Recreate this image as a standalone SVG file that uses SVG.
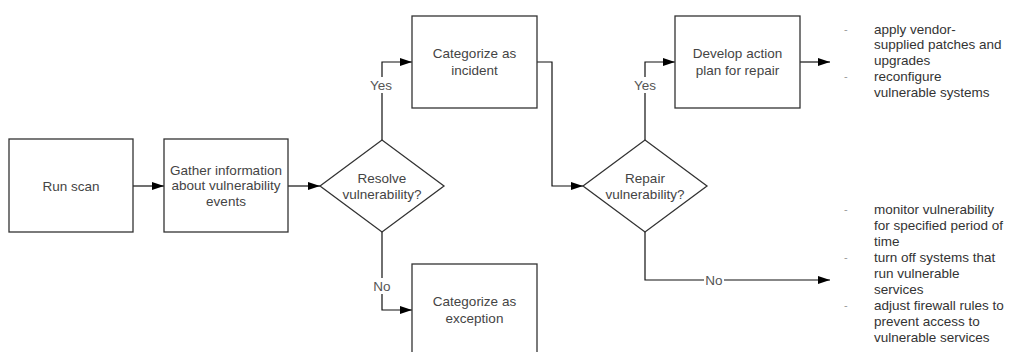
<svg xmlns="http://www.w3.org/2000/svg" width="1010" height="352" viewBox="0 0 1010 352">
<style>
.box{fill:#fff;stroke:#333;stroke-width:1.3}
.t{font-family:"Liberation Sans",Arial,sans-serif;font-size:13.5px;fill:#444;text-anchor:middle}
.lbl{font-family:"Liberation Sans",Arial,sans-serif;font-size:13.5px;fill:#555;text-anchor:middle}
.list{font-family:"Liberation Sans",Arial,sans-serif;font-size:13.5px;fill:#333}
.bul{font-family:"Liberation Sans",Arial,sans-serif;font-size:11px;fill:#999}
.c{fill:none;stroke:#111;stroke-width:1.2}
.bg{fill:#fff}
</style>
<defs>
<marker id="a" viewBox="0 0 12 8" refX="12" refY="4" markerWidth="12" markerHeight="8" markerUnits="userSpaceOnUse" orient="auto"><path d="M0,0 L12,4 L0,8 z" fill="#000"/></marker>
</defs>
<rect width="1010" height="352" fill="#fff"/>
<g id="connectors">
<path class="c" d="M133,186 H164" marker-end="url(#a)"/>
<path class="c" d="M288,186 H320" marker-end="url(#a)"/>
<path class="c" d="M382,140 V62 H412" marker-end="url(#a)"/>
<path class="c" d="M382,232 V310 H412" marker-end="url(#a)"/>
<path class="c" d="M537,62 H552 V186 H583" marker-end="url(#a)"/>
<path class="c" d="M645,140 V62 H675" marker-end="url(#a)"/>
<path class="c" d="M645,232 V280 H830" marker-end="url(#a)"/>
<path class="c" d="M800,62 H830" marker-end="url(#a)"/>
<rect class="bg" x="370" y="77" width="24" height="16"/>
<text class="lbl" x="381" y="90">Yes</text>
<rect class="bg" x="372" y="278" width="20" height="16"/>
<text class="lbl" x="382" y="291">No</text>
<rect class="bg" x="633" y="77" width="24" height="16"/>
<text class="lbl" x="645" y="90">Yes</text>
<rect class="bg" x="704" y="272" width="20" height="16"/>
<text class="lbl" x="714" y="285">No</text>
</g>
<g id="run-scan">
<rect class="box" x="9" y="139" width="124" height="93"/>
<text class="t" x="71" y="191">Run scan</text>
</g>
<g id="gather">
<rect class="box" x="164" y="139" width="124" height="93"/>
<text class="t" x="226" y="174.5">Gather information</text>
<text class="t" x="226" y="190">about vulnerability</text>
<text class="t" x="226" y="205.5">events</text>
</g>
<g id="resolve">
<path class="box" d="M320,186 L382,140 L444,186 L382,232 Z"/>
<text class="t" x="382" y="182.5">Resolve</text>
<text class="t" x="382" y="198.5">vulnerability?</text>
</g>
<g id="incident">
<rect class="box" x="412" y="16" width="125" height="92"/>
<text class="t" x="474.5" y="58">Categorize as</text>
<text class="t" x="474.5" y="74.5">incident</text>
</g>
<g id="exception">
<rect class="box" x="412" y="264" width="125" height="95"/>
<text class="t" x="474.5" y="306">Categorize as</text>
<text class="t" x="474.5" y="322.5">exception</text>
</g>
<g id="repair">
<path class="box" d="M583,186 L645,140 L707,186 L645,232 Z"/>
<text class="t" x="645" y="182.5">Repair</text>
<text class="t" x="645" y="198.5">vulnerability?</text>
</g>
<g id="develop">
<rect class="box" x="675" y="16" width="125" height="92"/>
<text class="t" x="737.5" y="58">Develop action</text>
<text class="t" x="737.5" y="74.5">plan for repair</text>
</g>
<g id="repair-actions">
<text class="bul" x="844" y="32.5">-</text>
<text class="bul" x="844" y="79.5">-</text>
<text class="list" x="874" y="33.5">apply vendor-</text>
<text class="list" x="874" y="49.25">supplied patches and</text>
<text class="list" x="874" y="65">upgrades</text>
<text class="list" x="874" y="80.75">reconfigure</text>
<text class="list" x="874" y="96.5">vulnerable systems</text>
</g>
<g id="no-repair-actions">
<text class="bul" x="844" y="213">-</text>
<text class="bul" x="844" y="261">-</text>
<text class="bul" x="844" y="309">-</text>
<text class="list" x="874" y="214">monitor vulnerability</text>
<text class="list" x="874" y="230">for specified period of</text>
<text class="list" x="874" y="246">time</text>
<text class="list" x="874" y="262">turn off systems that</text>
<text class="list" x="874" y="278">run vulnerable</text>
<text class="list" x="874" y="294">services</text>
<text class="list" x="874" y="310">adjust firewall rules to</text>
<text class="list" x="874" y="326">prevent access to</text>
<text class="list" x="874" y="342">vulnerable services</text>
</g>
</svg>
